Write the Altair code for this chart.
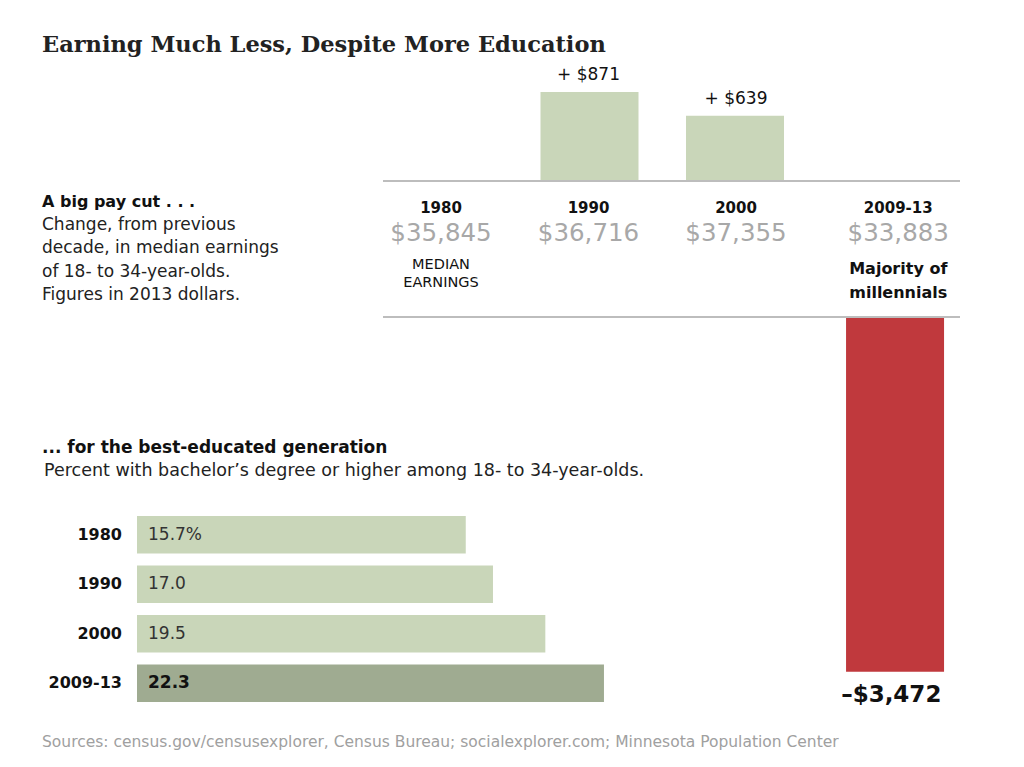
import altair as alt
import pandas as pd

# ---------------- data ----------------
periods = ["1980", "1990", "2000", "2009-13"]
mid_year = [1980, 1990, 2000, 2011]          # mid-point year of each period
median_earnings = [35845, 36716, 37355, 33883]
change_from_prev = [None, 871, 639, -3472]
bachelor_pct = [15.7, 17.0, 19.5, 22.3]

title_text = "Earning Much Less, Despite More Education"
pay_head = "A big pay cut . . ."
pay_sub = ["Change, from previous", "decade, in median earnings",
           "of 18- to 34-year-olds.", "Figures in 2013 dollars."]
edu_head = "... for the best-educated generation"
edu_sub = "Percent with bachelor\u2019s degree or higher among 18- to 34-year-olds."
median_note = ["MEDIAN", "EARNINGS"]
mill_note = ["Majority of", "millennials"]
source_text = ("Sources: census.gov/censusexplorer, Census Bureau; "
               "socialexplorer.com; Minnesota Population Center")

def change_label(v):
    if v is None:
        return ""
    if v > 0:
        return "+ $" + f"{v:,}"
    return "\u2013$" + f"{abs(v):,}"

df = pd.DataFrame({
    "period": periods,
    "mid": mid_year,
    "median": median_earnings,
    "change": change_from_prev,
    "pct": bachelor_pct,
})
df["median_label"] = ["$" + f"{v:,}" for v in median_earnings]
df["change_label"] = [change_label(v) for v in change_from_prev]
df["pct_label"] = [f"{v:.1f}" + ("%" if i == 0 else "") for i, v in enumerate(bachelor_pct)]
df["zero"] = 0

dummy = pd.DataFrame({"k": [0]})

# ---------------- styles ----------------
FONT = "DejaVu Sans"
SERIF = "DejaVu Serif"
GREEN = "#c9d6b9"
DARK_GREEN = "#9fab91"
RED = "#c0393d"
RULE = "#bdbdbd"
INK = "#111111"
GREY_TXT = "#a8a8a8"

xs_top = alt.Scale(domain=[1970, 2020], range=[285.5, 1023], nice=False, zero=False)
ys_a = alt.Scale(domain=[-4000, 1000], range=[581.7, 70.8], nice=False, zero=False)
ys_b = alt.Scale(domain=[-4000, 1000], range=[717.7, 206.8], nice=False, zero=False)
xs_bot = alt.Scale(domain=[0, 25], range=[129, 652.5], nice=False, zero=False)
ys_bot = alt.Scale(domain=periods, range=[502, 700], paddingInner=0.24, paddingOuter=0.12)

X_TOP = alt.X("mid:Q", scale=xs_top, axis=None)
base = alt.Chart(df)

# ---------------- top: change in median earnings ----------------
pos_bars = base.transform_filter("datum.change > 0").mark_bar(size=98, color=GREEN).encode(
    x=X_TOP, y=alt.Y("change:Q", scale=ys_a, axis=None), y2=alt.Y2("zero:Q"))
pos_labels = base.transform_filter("datum.change > 0").mark_text(
    font=FONT, fontSize=17, dy=-17, color=INK).encode(
    x=X_TOP, y=alt.Y("change:Q", scale=ys_a, axis=None), text="change_label:N")
top_rule = base.transform_filter("datum.period == '1980'").mark_rule(
    color=RULE, strokeWidth=2).encode(
    x=alt.value(375), x2=alt.value(952), y=alt.Y("zero:Q", scale=ys_a, axis=None))

neg_bar = base.transform_filter("datum.change < 0").mark_bar(size=98, color=RED).encode(
    x=X_TOP, y=alt.Y("change:Q", scale=ys_b, axis=None), y2=alt.Y2("zero:Q"))
neg_label = base.transform_filter("datum.change < 0").mark_text(
    font=FONT, fontSize=23, fontWeight="bold", dy=23, dx=-7, color=INK).encode(
    x=X_TOP, y=alt.Y("change:Q", scale=ys_b, axis=None), text="change_label:N")
low_rule = base.transform_filter("datum.period == '1980'").mark_rule(
    color=RULE, strokeWidth=2).encode(
    x=alt.value(375), x2=alt.value(952), y=alt.Y("zero:Q", scale=ys_b, axis=None))

year_labels = base.mark_text(font=FONT, fontSize=15, fontWeight="bold", color=INK).encode(
    x=X_TOP, y=alt.value(200), text="period:N")
median_labels = base.mark_text(font=FONT, fontSize=24.5, color=GREY_TXT).encode(
    x=X_TOP, y=alt.value(226), text="median_label:N")
median_txt = base.transform_filter("datum.period == '1980'").mark_text(
    text=median_note, font=FONT, fontSize=14.5, lineHeight=18, baseline="alphabetic",
    color=INK).encode(x=X_TOP, y=alt.value(261))
mill_txt = base.transform_filter("datum.period == '2009-13'").mark_text(
    text=mill_note, font=FONT, fontSize=16, fontWeight="bold", lineHeight=24,
    baseline="alphabetic", color=INK).encode(x=X_TOP, y=alt.value(266))

# ---------------- bottom: bachelor's degree share ----------------
Y_BOT = alt.Y("period:N", scale=ys_bot, axis=None)
edu_bars = base.mark_bar().encode(
    x=alt.X("pct:Q", scale=xs_bot, axis=None), x2=alt.X2("zero:Q"), y=Y_BOT,
    color=alt.condition("datum.period == '2009-13'", alt.value(DARK_GREEN), alt.value(GREEN)))
edu_years = base.mark_text(font=FONT, fontSize=16, fontWeight="bold", align="right",
                           dx=-15, color=INK).encode(
    x=alt.X("zero:Q", scale=xs_bot, axis=None), y=Y_BOT, text="period:N")
edu_vals = base.transform_filter("datum.period != '2009-13'").mark_text(
    font=FONT, fontSize=17, align="left", dx=11, color="#333333").encode(
    x=alt.X("zero:Q", scale=xs_bot, axis=None), y=Y_BOT, text="pct_label:N")
edu_val_last = base.transform_filter("datum.period == '2009-13'").mark_text(
    font=FONT, fontSize=17, fontWeight="bold", align="left", dx=11, color=INK).encode(
    x=alt.X("zero:Q", scale=xs_bot, axis=None), y=Y_BOT, text="pct_label:N")

# ---------------- annotations ----------------
def note(text, x, y, **kw):
    return alt.Chart(dummy).mark_text(text=text, align="left", baseline="alphabetic", **kw).encode(
        x=alt.value(x), y=alt.value(y))

title = note(title_text, 34, 44, font=SERIF, fontSize=22.5, fontWeight="bold", color="#222222")
pay_h = note(pay_head, 34, 199, font=FONT, fontSize=16, fontWeight="bold", color=INK)
pay_s = note(pay_sub, 34, 222, font=FONT, fontSize=17, lineHeight=23.3, color="#222222")
edu_h = note(edu_head, 34, 445, font=FONT, fontSize=17, fontWeight="bold", color=INK)
edu_s = note(edu_sub, 36, 468, font=FONT, fontSize=17.5, color="#222222")
src = note(source_text, 34, 739, font=FONT, fontSize=15.5, color="#a0a0a0")

chart = alt.layer(
    pos_bars, neg_bar, top_rule, low_rule, pos_labels, neg_label,
    year_labels, median_labels, median_txt, mill_txt,
    edu_bars, edu_years, edu_vals, edu_val_last,
    title, pay_h, pay_s, edu_h, edu_s, src,
).resolve_scale(x="independent", y="independent").properties(
    width=1008, height=751, padding=0,
    autosize=alt.AutoSizeParams(type="none"),
).configure_view(strokeWidth=0)

chart.save("out.html", embed_options={"renderer": "svg", "actions": False})
